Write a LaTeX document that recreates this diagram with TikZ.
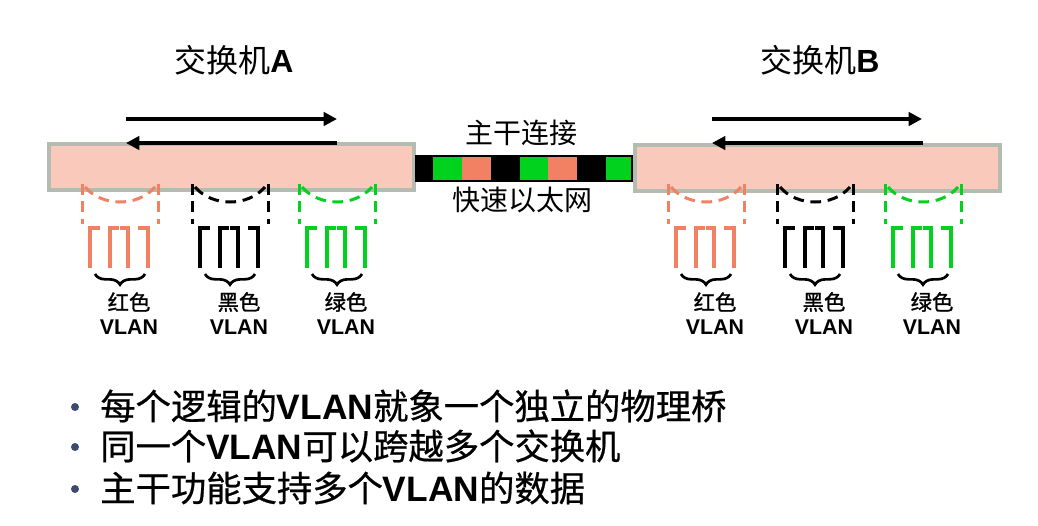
\documentclass[tikz,border=0pt]{standalone}
\usepackage{fontspec}
\setmainfont{Liberation Sans}
\newfontfamily\cjk{Noto Sans CJK SC}
\newfontfamily\cjkb[FakeBold=1.2]{Noto Sans CJK SC}
\newfontfamily\cjkm[FakeBold=0.6]{Noto Sans CJK SC}
\usetikzlibrary{arrows.meta,decorations.pathreplacing}
\definecolor{sal}{RGB}{242,128,98}
\definecolor{grn}{RGB}{0,210,30}
\definecolor{boxfill}{RGB}{249,202,188}
\definecolor{boxline}{RGB}{180,188,178}
\definecolor{bulletc}{RGB}{60,75,110}
\newcommand\portgroup[4]{% center x, colour, label, name
  \draw[dashline,#2] ({#1-38},184) -- ({#1-38},224);
  \draw[dashline,#2] ({#1+38},184) -- ({#1+38},224);
  \draw[dashline,#2] ({#1-35},187) .. controls ({#1-18},207) and ({#1+18},207) .. ({#1+35},187);
  \draw[portline,#2] ({#1-30},268) -- ({#1-30},228) -- ({#1-20},228);
  \draw[portline,#2] ({#1-10},268) -- ({#1-10},228) -- ({#1-1},228);
  \draw[portline,#2] ({#1+8},268) -- ({#1+8},228) -- ({#1},228);
  \draw[portline,#2] ({#1+28},268) -- ({#1+28},228) -- ({#1+18},228);
  \draw[vbrace] ({#1-25},274) -- ({#1+25},274);
  \node[lbl] (#4c) at ({#1+9},302) {\cjkb #3};
  \node[lbl] (#4v) at ({#1+9},327) {\textbf{VLAN}};
}
\begin{document}
\begin{tikzpicture}[x=0.75pt,y=-0.75pt,
  switchbox/.style={draw=boxline, line width=3pt, fill=boxfill, minimum width=273.75pt, minimum height=34.5pt, inner sep=0},
  flow/.style={line width=3pt, -{Triangle[length=10pt,width=10pt]}},
  dashline/.style={dash pattern=on 8pt off 5pt, line width=2.25pt},
  portline/.style={line width=3pt},
  vbrace/.style={decorate, decoration={brace, mirror, amplitude=8pt}, line width=2pt},
  lbl/.style={font=\fontsize{16}{18}\selectfont, inner sep=0},
  bul/.style={circle, fill=bulletc, inner sep=0, minimum size=6pt},
  btext/.style={anchor=west, inner sep=0, font=\fontsize{26.5}{30}\selectfont}]
\useasboundingbox (0,0) rectangle (1038,525);
% titles
\node[font=\fontsize{24}{28}\selectfont] (titleA) at (234,60) {{\cjk 交换机}\textbf{A}};
\node[font=\fontsize{24}{28}\selectfont] (titleB) at (820,60) {{\cjk 交换机}\textbf{B}};
% switch boxes
\node[switchbox] (swA) at (231.5,167) {};
\node[switchbox] (swB) at (817,167.5) {};
% flow arrows
\coordinate (a1) at (126,119); \coordinate (a2) at (337,119);
\coordinate (a3) at (337,143); \coordinate (a4) at (126,143);
\coordinate (b1) at (712,119); \coordinate (b2) at (922,119);
\coordinate (b3) at (923,143); \coordinate (b4) at (712,143);
\draw[flow] (a1) -- (a2);
\draw[flow] (a3) -- (a4);
\draw[flow] (b1) -- (b2);
\draw[flow] (b3) -- (b4);
% trunk
\fill[black] (416,156) rectangle (433,181);
\fill[grn] (433,156) rectangle (462,181);
\fill[sal] (462,156) rectangle (491,181);
\fill[black] (491,156) rectangle (520,181);
\fill[grn] (520,156) rectangle (548,181);
\fill[sal] (548,156) rectangle (577,181);
\fill[black] (577,156) rectangle (606,181);
\fill[grn] (606,156) rectangle (632,181);
\node[draw=black, line width=1pt, minimum width=162pt, minimum height=18.75pt, inner sep=0] (trunk) at (524,168.5) {};
\node[font=\fontsize{21}{24}\selectfont] (trunktop) at (521,133) {\cjk 主干连接};
\node[font=\fontsize{21}{24}\selectfont] (trunkbot) at (522,200) {\cjk 快速以太网};
% port groups
\portgroup{120}{sal}{红色}{ar}
\portgroup{230}{black}{黑色}{ak}
\portgroup{337}{grn}{绿色}{ag}
\portgroup{706}{sal}{红色}{br}
\portgroup{815}{black}{黑色}{bk}
\portgroup{923}{grn}{绿色}{bg}
% bullets
\node[bul] (d1) at (75,407) {};
\node[bul] (d2) at (75,447) {};
\node[bul] (d3) at (75,489) {};
\node[btext] (t1) at (100,406) {{\cjkm 每个逻辑的}\textbf{VLAN}{\cjkm 就象一个独立的物理桥}};
\node[btext] (t2) at (100,446) {{\cjkm 同一个}\textbf{VLAN}{\cjkm 可以跨越多个交换机}};
\node[btext] (t3) at (100,488) {{\cjkm 主干功能支持多个}\textbf{VLAN}{\cjkm 的数据}};
\end{tikzpicture}
\end{document}
